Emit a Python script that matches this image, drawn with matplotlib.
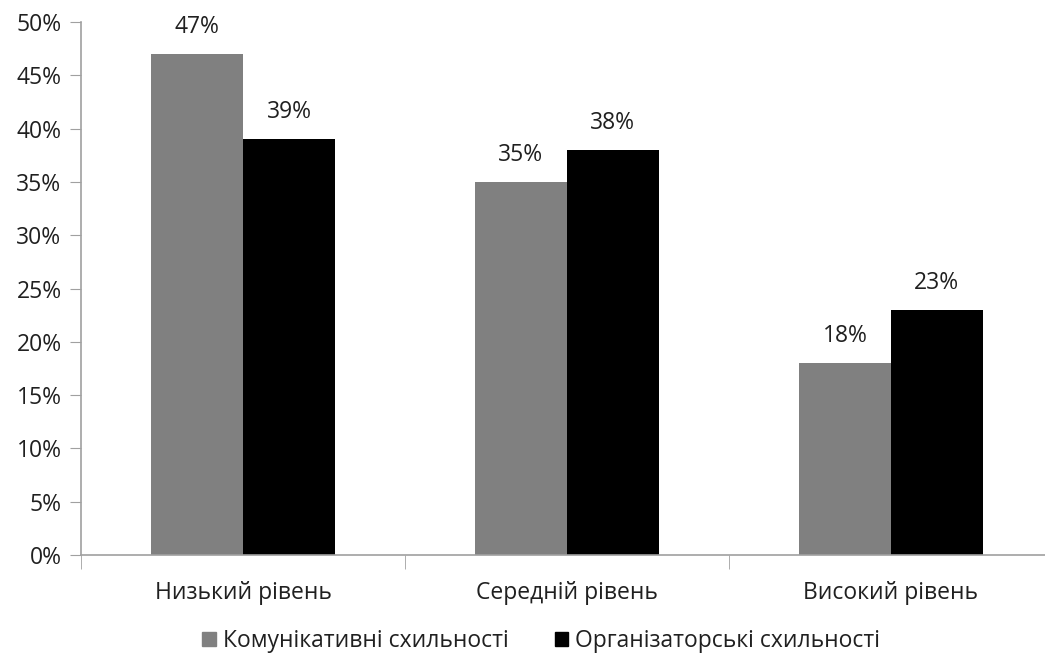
import matplotlib.pyplot as plt
import numpy as np
from matplotlib.patches import Patch

plt.rcParams['font.family'] = ['Open Sans', 'DejaVu Sans']

categories = ['Низький рівень', 'Середній рівень', 'Високий рівень']
series_names = ['Комунікативні схильності', 'Організаторські схильності']
comm = [47, 35, 18]
org = [39, 38, 23]
colors = ['#808080', '#000000']

fig = plt.figure(figsize=(10.45, 6.58), dpi=100)
ax = fig.add_axes([0.0775, 0.1565, 0.930, 0.810])

x = np.arange(len(categories))
w = 0.284
bars1 = ax.bar(x - w / 2, comm, w, color=colors[0])
bars2 = ax.bar(x + w / 2, org, w, color=colors[1])

fs = 16.5
for bars, vals in ((bars1, comm), (bars2, org)):
    for b, v in zip(bars, vals):
        ax.annotate(f'{v}%', (b.get_x() + b.get_width() / 2, v),
                    xytext=(0, 11), textcoords='offset points',
                    ha='center', va='bottom', fontsize=fs, color='#202020')

ax.set_xlim(-0.5, 2.5)
ax.set_ylim(0, 50)
ax.set_yticks(np.arange(0, 51, 5))
ax.set_yticklabels([f'{t}%' for t in range(0, 51, 5)], fontsize=fs, color='#202020')

# category labels centred, tick marks on the boundaries
ax.set_xticks(x)
ax.set_xticklabels(categories, fontsize=fs, color='#202020')
ax.tick_params(axis='x', length=0, pad=19)
ax.set_xticks([-0.5, 0.5, 1.5, 2.5], minor=True)
ax.tick_params(axis='x', which='minor', length=10, color='#a0a0a0', direction='out')
ax.tick_params(axis='y', length=8, color='#a0a0a0', pad=6)

for s in ['top', 'right']:
    ax.spines[s].set_visible(False)
for s in ['left', 'bottom']:
    ax.spines[s].set_color('#a0a0a0')
    ax.spines[s].set_linewidth(1.2)

handles = [Patch(color=c) for c in colors]
fig.legend(handles, series_names, loc='center', bbox_to_anchor=(0.518, 0.026),
           ncol=2, frameon=False, fontsize=fs, handlelength=0.6, handleheight=0.6,
           handletextpad=0.3, columnspacing=2.0, labelcolor='#202020')

fig.savefig('out.png', dpi=100)
